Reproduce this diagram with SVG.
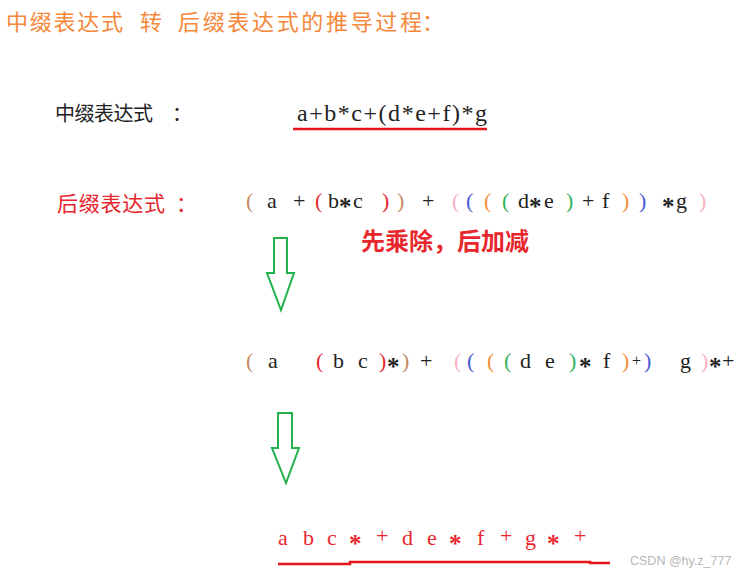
<svg xmlns="http://www.w3.org/2000/svg" width="740" height="571" viewBox="0 0 740 571">
<style>
.cjk{font-family:"Noto Sans CJK SC","Noto Sans CJK JP",sans-serif;}
.m{font-family:"Liberation Serif",serif;font-size:22px;fill:#222;}
.s{font-size:25px;font-weight:bold;}
.r{fill:#e8262d;}
.br{fill:#c48a62;}
.pk{fill:#f7b0c6;}
.bl{fill:#4b5bd4;}
.or{fill:#f7903a;}
.gr{fill:#2fb35a;}
.arrow{fill:#fff;stroke:#22b14c;stroke-width:2;stroke-linejoin:miter;}
.ul{fill:none;stroke:#e8141c;stroke-width:2.5;}
</style>
<rect width="740" height="571" fill="#fff"/>
<g id="title" class="cjk" font-size="22" fill="#f5883a">
<text x="6" y="30" textLength="117" lengthAdjust="spacing">中缀表达式</text>
<text x="140" y="30">转</text>
<text x="178" y="30" textLength="244" lengthAdjust="spacing">后缀表达式的推导过程</text>
<text x="422" y="30">：</text>
</g>
<g id="infix">
<text class="cjk" x="55" y="121" font-size="20" fill="#222" textLength="98" lengthAdjust="spacing">中缀表达式</text>
<text class="cjk" x="172" y="121" font-size="20" fill="#222">：</text>
<text x="297" y="121" font-family="Liberation Serif, serif" font-size="24" fill="#222" textLength="190" lengthAdjust="spacing">a+b*c+(d*e+f)*g</text>
<line class="ul" x1="293" y1="129" x2="487" y2="129"/>
</g>
<g id="postfix-label">
<text class="cjk" x="57" y="211" font-size="21" fill="#e8262d" textLength="108" lengthAdjust="spacing">后缀表达式</text>
<text class="cjk" x="176" y="211" font-size="21" fill="#e8262d">：</text>
</g>
<g id="step1">
<text class="m br" x="246" y="208">(</text>
<text class="m" x="267" y="208">a</text>
<text class="m" x="293" y="208">+</text>
<text class="m r" x="315" y="208">(</text>
<text class="m" x="328" y="208">b</text>
<text class="m s" x="339" y="215">*</text>
<text class="m" x="353" y="208">c</text>
<text class="m r" x="382" y="208">)</text>
<text class="m br" x="397" y="208">)</text>
<text class="m" x="422" y="208">+</text>
<text class="m pk" x="452" y="208">(</text>
<text class="m bl" x="466" y="208">(</text>
<text class="m or" x="484" y="208">(</text>
<text class="m gr" x="502" y="208">(</text>
<text class="m" x="518" y="208">d</text>
<text class="m s" x="529" y="215">*</text>
<text class="m" x="544" y="208">e</text>
<text class="m gr" x="566" y="208">)</text>
<text class="m" x="582" y="208">+</text>
<text class="m" x="602" y="208">f</text>
<text class="m or" x="622" y="208">)</text>
<text class="m bl" x="639" y="208">)</text>
<text class="m s" x="662" y="215">*</text>
<text class="m" x="676" y="208">g</text>
<text class="m pk" x="699" y="208">)</text>
</g>
<g id="note">
<text class="cjk" x="361" y="250" font-size="24" font-weight="bold" fill="#e8262d">先乘除，后加减</text>
</g>
<g id="arrow1">
<polygon class="arrow" points="274,238 287,238 287,273 294,273 281,310 267,273 274,273"/>
</g>
<g id="step2">
<text class="m br" x="246" y="368">(</text>
<text class="m" x="268" y="368">a</text>
<text class="m r" x="316" y="368">(</text>
<text class="m" x="333" y="368">b</text>
<text class="m" x="358" y="368">c</text>
<text class="m r" x="379" y="368">)</text>
<text class="m s" x="387" y="375">*</text>
<text class="m br" x="402" y="368">)</text>
<text class="m" x="420" y="368">+</text>
<text class="m pk" x="454" y="368">(</text>
<text class="m bl" x="467" y="368">(</text>
<text class="m or" x="487" y="368">(</text>
<text class="m gr" x="504" y="368">(</text>
<text class="m" x="520" y="368">d</text>
<text class="m" x="545" y="368">e</text>
<text class="m gr" x="569" y="368">)</text>
<text class="m s" x="579" y="375">*</text>
<text class="m" x="603" y="368">f</text>
<text class="m or" x="622" y="368">)</text>
<text x="632" y="366" font-family="Liberation Serif, serif" font-size="16" fill="#222">+</text>
<text class="m bl" x="644" y="368">)</text>
<text class="m" x="680" y="368">g</text>
<text class="m pk" x="701" y="368">)</text>
<text class="m s" x="709" y="375">*</text>
<text class="m" x="722" y="368">+</text>
</g>
<g id="arrow2">
<polygon class="arrow" points="278,413 292,413 292,448 299,448 286,483 272,448 278,448"/>
</g>
<g id="result">
<text class="m r" x="278" y="545">a</text>
<text class="m r" x="303" y="545">b</text>
<text class="m r" x="327" y="545">c</text>
<text class="m r s" x="349" y="552">*</text>
<text class="m r" x="376" y="543">+</text>
<text class="m r" x="402" y="545">d</text>
<text class="m r" x="427" y="545">e</text>
<text class="m r s" x="449" y="552">*</text>
<text class="m r" x="477" y="545">f</text>
<text class="m r" x="500" y="543">+</text>
<text class="m r" x="525" y="545">g</text>
<text class="m r s" x="547" y="552">*</text>
<text class="m r" x="574" y="543">+</text>
<polyline class="ul" points="278,564 350,564 350,562 590,562 590,563 610,563"/>
</g>
<g id="watermark">
<text x="630" y="565" font-family="Liberation Sans, sans-serif" font-size="12.5" fill="#b8b8b8">CSDN @hy.z_777</text>
</g>
</svg>
